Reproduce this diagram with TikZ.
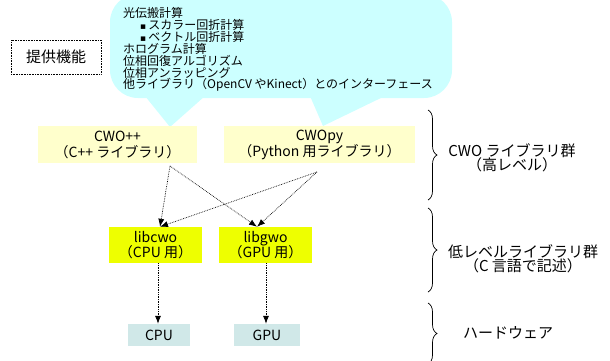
\documentclass[tikz,border=0pt]{standalone}
\usepackage{fontspec}
\setmainfont{Noto Sans CJK JP}
\newfontfamily\symfont{DejaVu Sans}
\usetikzlibrary{arrows.meta,decorations.pathreplacing}
\definecolor{callcol}{HTML}{CCFFFF}
\definecolor{paleyel}{HTML}{FFFFCC}
\definecolor{limeyel}{HTML}{EEFF00}
\definecolor{hwcol}{HTML}{D0E8E8}
\tikzset{
  lib/.style={fill=paleyel, minimum height=37pt, align=center, inner sep=0pt, font=\fontsize{14}{16}\selectfont},
  lowlib/.style={fill=limeyel, minimum width=93pt, minimum height=36pt, align=center, inner sep=0pt, font=\fontsize{14}{15.5}\selectfont},
  hw/.style={fill=hwcol, minimum height=22pt, inner sep=0pt, font=\fontsize{14}{16}\selectfont},
  calltxt/.style={anchor=west, inner sep=0pt, font=\fontsize{12}{12}\selectfont},
  conn/.style={densely dotted, line width=0.7pt, -{Latex[length=8pt,width=6pt]}},
  bracebr/.style={decorate, decoration={brace, amplitude=9pt}, line width=0.7pt},
  sidelbl/.style={align=center, inner sep=0pt, font=\fontsize{15}{14}\selectfont}
}
\begin{document}
\begin{tikzpicture}[x=1pt, y=-1pt]
\useasboundingbox (0,0) rectangle (610,360);
% callout
\fill[callcol, rounded corners=28pt] (110,-6) rectangle (452,98);
\fill[callcol] (145,96) -- (170,127) -- (205,96) -- cycle;
\fill[callcol] (310,96) -- (323,126) -- (385,96) -- cycle;
\node[calltxt] (l1) at (123,13) {光伝搬計算};
\node[calltxt] (l2) at (140,25) {{\symfont\fontsize{9}{9}\selectfont ▪}\hspace{2pt}スカラー回折計算};
\node[calltxt] (l3) at (140,37) {{\symfont\fontsize{9}{9}\selectfont ▪}\hspace{2pt}ベクトル回折計算};
\node[calltxt] (l4) at (123,49) {ホログラム計算};
\node[calltxt] (l5) at (123,61) {位相回復アルゴリズム};
\node[calltxt] (l6) at (123,73) {位相アンラッピング};
\node[calltxt] (l7) at (123,85) {他ライブラリ（OpenCV やKinect）とのインターフェース};
% function box
\node[draw, densely dotted, line width=0.6pt, minimum width=90pt, minimum height=34pt, inner sep=0pt, font=\fontsize{15}{16}\selectfont] (func) at (56,57) {提供機能};
% high-level libs
\node[lib, minimum width=159pt] (cwopp) at (117.5,144.5) {CWO++\\（C++ ライブラリ）};
\node[lib, minimum width=191pt] (cwopy) at (319.5,144.5) {CWOpy\\（Python 用ライブラリ）};
% low-level libs
\node[lowlib] (libcwo) at (155.5,245) {libcwo\\（CPU 用）};
\node[lowlib] (libgwo) at (265.5,245) {libgwo\\（GPU 用）};
% hardware
\node[hw, minimum width=62pt] (cpu) at (159,335) {CPU};
\node[hw, minimum width=66pt] (gpu) at (267,335) {GPU};
% connectors
\coordinate (s1) at (170,166);
\coordinate (s2) at (317,172);
\draw[conn] (s1) -- ([xshift=4.5pt]libcwo.north);
\draw[conn] (s1) -- ([xshift=-8.5pt]libgwo.north);
\draw[conn] (s2) -- ([xshift=4.5pt]libcwo.north);
\draw[conn] (s2) -- ([xshift=-8.5pt]libgwo.north);
\draw[conn] ([xshift=2.5pt]libcwo.south) -- ([xshift=-1pt]cpu.north);
\draw[conn] ([xshift=0.5pt]libgwo.south) -- ([xshift=-1pt]gpu.north);
% braces
\draw[bracebr] (428,110) -- (428,200);
\draw[bracebr] (428,208) -- (428,292);
\draw[bracebr] (428,303) -- (428,364);
\node[sidelbl] (hi) at (512,158) {CWO ライブラリ群\\[-1pt]（高レベル）};
\node[sidelbl] (lo) at (523,259) {低レベルライブラリ群\\[-1pt]（C 言語で記述）};
\node[sidelbl] (hwl) at (508,333) {ハードウェア};
\end{tikzpicture}
\end{document}
